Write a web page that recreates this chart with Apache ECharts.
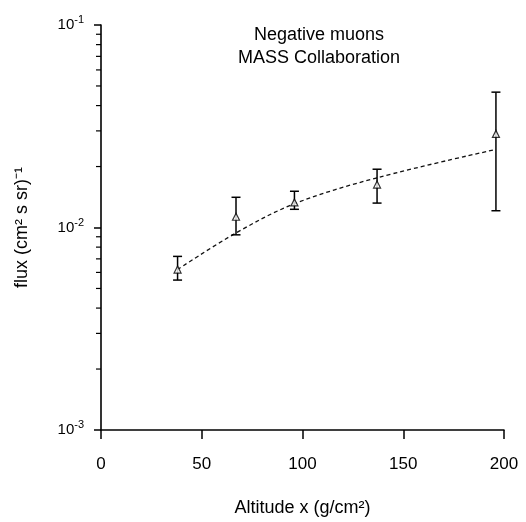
<!DOCTYPE html>
<html><head><meta charset="utf-8">
<script src="https://cdn.jsdelivr.net/npm/echarts@6/dist/echarts.min.js"></script>
<style>html,body{margin:0;padding:0;background:#fff}#c{width:526px;height:522px}</style>
</head><body><div id="c"></div>
<script>
// Data
const altitude = [38, 67, 96, 137, 196];
const flux = [0.0062, 0.0113, 0.0133, 0.0163, 0.029];
const fluxLow = [0.0055, 0.0092, 0.0123, 0.0132, 0.0121];
const fluxHigh = [0.0072, 0.0141, 0.0151, 0.0194, 0.0466];
const fitX = [38, 67, 96, 137, 196];
const fitY = [0.0062, 0.0094, 0.0131, 0.0176, 0.0243];
const xTicks = [0, 50, 100, 150, 200];
const yMajor = [0.001, 0.01, 0.1];
const yMajorExp = ['-3', '-2', '-1'];
const yMinor = [0.002,0.003,0.004,0.005,0.006,0.007,0.008,0.009,0.02,0.03,0.04,0.05,0.06,0.07,0.08,0.09];

const FONT = 'Liberation Sans, Arial, sans-serif';
const chart = echarts.init(document.getElementById('c'), null, {renderer: 'canvas'});

const errData = altitude.map((x, i) => [x, fluxLow[i], fluxHigh[i]]);
const pts = altitude.map((x, i) => [x, flux[i]]);
const fit = fitX.map((x, i) => [x, fitY[i]]);
const minorData = yMinor.map(v => [0, v]);

chart.setOption({
  animation: false,
  backgroundColor: '#fff',
  title: {
    text: 'Negative muons\nMASS Collaboration',
    left: 314, top: 19, textAlign: 'center',
    textStyle: {fontFamily: FONT, fontSize: 18, fontWeight: 'normal', color: '#000', lineHeight: 23}
  },
  grid: {left: 101, right: 22, top: 25, bottom: 91},
  xAxis: {
    type: 'value', min: 0, max: 200, interval: 50,
    name: 'Altitude x (g/cm²)', nameLocation: 'middle', nameGap: 69,
    nameTextStyle: {fontFamily: FONT, fontSize: 18, color: '#000'},
    axisLine: {show: true, onZero: false, lineStyle: {color: '#000', width: 1.5}},
    axisTick: {show: true, inside: false, length: 9, lineStyle: {color: '#000', width: 1.5}},
    axisLabel: {fontFamily: FONT, fontSize: 17, color: '#000', margin: 26,
      formatter: v => xTicks.includes(v) ? String(v) : ''},
    splitLine: {show: false}
  },
  yAxis: {
    type: 'log', logBase: 10, min: 0.001, max: 0.1,
    name: 'flux (cm² s sr)⁻¹', nameLocation: 'middle', nameGap: 70, nameRotate: 90,
    nameTextStyle: {fontFamily: FONT, fontSize: 18, color: '#000'},
    axisLine: {show: true, onZero: false, lineStyle: {color: '#000', width: 1.6}},
    axisTick: {show: true, inside: false, length: 7, lineStyle: {color: '#000', width: 1.5}},
    axisLabel: {
      margin: 17,
      formatter: v => {
        const i = yMajor.findIndex(m => Math.abs(m - v) / m < 1e-6);
        return i >= 0 ? '{b|10}{s|' + yMajorExp[i] + '}' : '';
      },
      rich: {
        b: {fontFamily: FONT, fontSize: 15, color: '#000'},
        s: {fontFamily: FONT, fontSize: 11, color: '#000', padding: [0, 0, 10, 0]}
      }
    },
    splitLine: {show: false}
  },
  series: [
    {
      type: 'custom', name: 'minor', clip: false, silent: true,
      data: minorData,
      renderItem: (params, api) => {
        const p = api.coord([api.value(0), api.value(1)]);
        return {type: 'line', shape: {x1: p[0] - 5, y1: p[1], x2: p[0], y2: p[1]},
          style: {stroke: '#000', lineWidth: 1.2}};
      }
    },
    {
      type: 'line', name: 'fit', data: fit, smooth: 0.35, showSymbol: false,
      lineStyle: {color: '#111', width: 1.3, type: [4, 3]}, z: 2
    },
    {
      type: 'custom', name: 'err', data: errData, z: 3,
      renderItem: (params, api) => {
        const x = api.value(0);
        const lo = api.coord([x, api.value(1)]);
        const hi = api.coord([x, api.value(2)]);
        const w = 4.5;
        const st = {stroke: '#000', lineWidth: 1.5};
        return {type: 'group', children: [
          {type: 'line', shape: {x1: lo[0], y1: lo[1], x2: hi[0], y2: hi[1]}, style: st},
          {type: 'line', shape: {x1: lo[0] - w, y1: lo[1], x2: lo[0] + w, y2: lo[1]}, style: st},
          {type: 'line', shape: {x1: hi[0] - w, y1: hi[1], x2: hi[0] + w, y2: hi[1]}, style: st}
        ]};
      }
    },
    {
      type: 'scatter', name: 'data', data: pts, symbol: 'triangle', symbolSize: 7, z: 4,
      itemStyle: {color: '#fff', borderColor: '#000', borderWidth: 1.2}
    }
  ]
});
</script></body></html>
